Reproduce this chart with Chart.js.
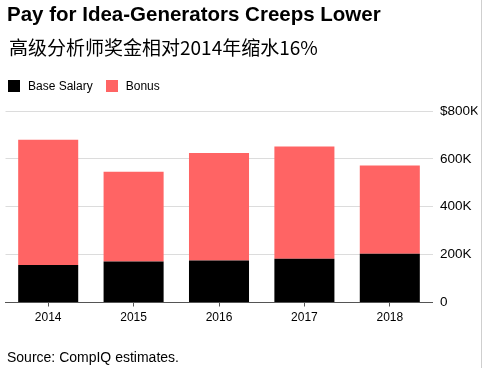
<!DOCTYPE html>
<html>
<head>
<meta charset="utf-8">
<script src="https://cdn.jsdelivr.net/npm/chart.js@4"></script>
<style>
  html, body { margin: 0; padding: 0; background: #fff; }
  body { width: 483px; height: 368px; position: relative; overflow: hidden; font-family: "Liberation Sans", Arial, Helvetica, sans-serif; }
  #c { position: absolute; left: 0; top: 0; width: 483px; height: 368px; }
  .t { position: absolute; white-space: nowrap; color: #000; }
  #title { left: 7px; top: 4px; font-size: 20.5px; font-weight: bold; line-height: 20px; }
  #sub { left: 9px; top: 36.5px; font-family: "Noto Sans CJK SC", sans-serif; font-size: 19px; line-height: 19px; }
  #legend { left: 8px; top: 80px; height: 12px; display: flex; align-items: center; font-size: 12px; }
  .sw { width: 12px; height: 12px; display: inline-block; }
  .lab { margin-left: 8px; margin-right: 13px; line-height: 12px; }
  #src { left: 7px; top: 350px; font-size: 14px; line-height: 14px; }
  #edge { position: absolute; left: 481px; top: 0; width: 1px; height: 368px; background: #cfcfcf; }
</style>
</head>
<body>
<canvas id="c" width="483" height="368"></canvas>
<div class="t" id="title">Pay for Idea-Generators Creeps Lower</div>
<div class="t" id="sub">高级分析师奖金相对2014年缩水16%</div>
<div class="t" id="legend"><span class="sw" id="sw0"></span><span class="lab" id="lab0"></span><span class="sw" id="sw1"></span><span class="lab" id="lab1"></span></div>
<div class="t" id="src">Source: CompIQ estimates.</div>
<div id="edge"></div>
<script>
const years = ["2014", "2015", "2016", "2017", "2018"];
const seriesNames = ["Base Salary", "Bonus"];
const baseSalary = [157000, 171000, 175000, 183000, 204000];
const bonus = [523000, 375000, 450000, 469000, 368000];
const yTicks = [0, 200000, 400000, 600000, 800000];
const colors = ["#000000", "#ff6464"];

document.getElementById('sw0').style.background = colors[0];
document.getElementById('sw1').style.background = colors[1];
document.getElementById('lab0').textContent = seriesNames[0];
document.getElementById('lab1').textContent = seriesNames[1];

function fmt(v) {
  if (v === 0) return "0";
  const k = Math.round(v / 1000) + "K";
  return v === yTicks[yTicks.length - 1] ? "$" + k : k;
}

new Chart(document.getElementById('c'), {
  type: 'bar',
  data: {
    labels: years,
    datasets: [
      { label: seriesNames[0], data: baseSalary, backgroundColor: colors[0], borderWidth: 0 },
      { label: seriesNames[1], data: bonus, backgroundColor: colors[1], borderWidth: 0 }
    ]
  },
  options: {
    responsive: false,
    animation: false,
    devicePixelRatio: 1,
    layout: { padding: { top: 111, left: 5.5, right: 5.5, bottom: 35.5 } },
    plugins: { legend: { display: false }, tooltip: { enabled: false }, title: { display: false } },
    datasets: { bar: { categoryPercentage: 1, barPercentage: 0.703 } },
    scales: {
      x: {
        stacked: true,
        afterFit: s => { s.height = 30; },
        grid: { offset: false, drawOnChartArea: false, drawTicks: true, tickLength: 4, color: '#555', lineWidth: 1 },
        border: { display: true, color: '#555', width: 1 },
        ticks: { color: '#000', padding: 4, font: { family: 'Liberation Sans, Arial, sans-serif', size: 12 }, maxRotation: 0 }
      },
      y: {
        stacked: true,
        position: 'right',
        min: 0,
        max: yTicks[yTicks.length - 1],
        afterFit: s => { s.width = 45; },
        afterBuildTicks: s => { s.ticks = yTicks.map(v => ({ value: v })); },
        grid: { color: '#dcdcdc', lineWidth: 1, drawTicks: false },
        border: { display: false },
        ticks: { color: '#000', padding: 7.5, font: { family: 'Liberation Sans, Arial, sans-serif', size: 13.5 }, callback: v => fmt(v) }
      }
    }
  }
});
</script>
</body>
</html>
